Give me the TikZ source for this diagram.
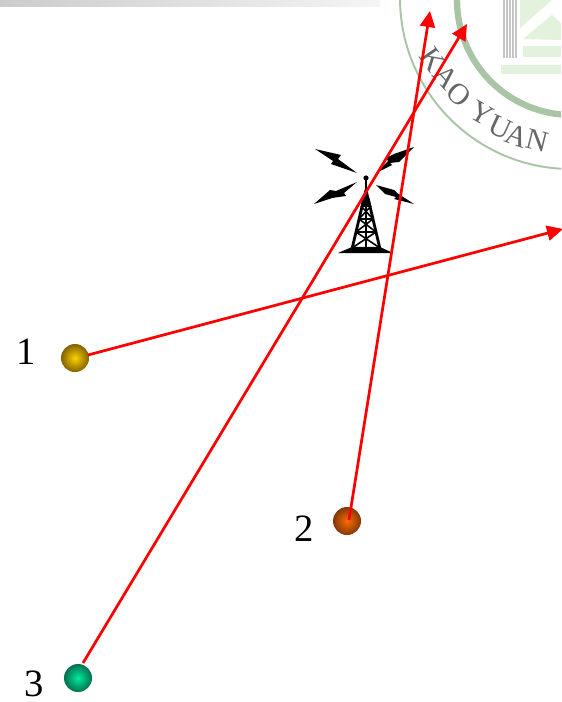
\documentclass[tikz,border=0pt]{standalone}
\usepackage{fontspec}
\setmainfont{Liberation Serif}
\usetikzlibrary{arrows.meta,positioning,calc}
\definecolor{ringgreen}{RGB}{170,196,166}
\definecolor{palegreen}{RGB}{226,242,220}
\definecolor{yelin}{RGB}{255,210,0}
\definecolor{yelout}{RGB}{128,98,0}
\definecolor{orgin}{RGB}{255,108,0}
\definecolor{orgout}{RGB}{128,56,10}
\definecolor{grnin}{RGB}{0,235,155}
\definecolor{grnout}{RGB}{0,112,80}
\tikzset{
  ball/.style={circle,minimum size=28*0.02cm,inner sep=0pt},
  numlbl/.style={font=\fontsize{22}{26}\selectfont,inner sep=0pt},
  logolbl/.style={font=\fontsize{17}{20}\selectfont,text=black!60,inner sep=0pt},
  arr/.style={-{Triangle[length=16*0.02cm,width=15*0.02cm]},red,line width=1.55pt},
  bolt/.style={fill=black,draw=none}
}
\begin{document}
\begin{tikzpicture}[x=0.02cm,y=-0.02cm]
  \useasboundingbox (0,0) rectangle (561,702);
  % Top band
  \shade[left color=gray!40,right color=gray!8] (0,0) rectangle (380,7);

  % Logo
  \begin{scope}
    \clip (0,0) rectangle (561,702);
    \draw[ringgreen,line width=1.1pt] (571,-2) circle (171);
    \draw[ringgreen,line width=3.6pt] (572,0) circle (115);
    \foreach \x in {504,507,510,513,516}
      \draw[gray!45,line width=0.7pt] (\x,0) -- (\x,58);
    \fill[palegreen] (501,65) rectangle (561,74);
    \fill[palegreen] (523,46) rectangle (561,57);
    \fill[palegreen] (523,39) -- (552,15) -- (561,23) -- (561,40) -- cycle;
    \fill[palegreen] (520,0) -- (520,28) -- (552,0) -- cycle;
  \end{scope}
  \node[logolbl,rotate=-55] (lk) at (433,60) {K};
  \node[logolbl,rotate=-48] (la) at (446,77) {A};
  \node[logolbl,rotate=-42] (lo) at (459,94) {O};
  \node[logolbl,rotate=-30] (ly) at (482,113) {Y};
  \node[logolbl,rotate=-25] (lu) at (500,127) {U};
  \node[logolbl,rotate=-20] (lb) at (517,136) {A};
  \node[logolbl,rotate=-14] (ln) at (537,141) {N};

  % Tower
  \fill[black] (338,253) -- (352,247) -- (380,247) -- (393,253) -- cycle;
  \fill[black] (364.5,190) -- (367.5,190) -- (371,206) -- (361,206) -- cycle;
  \draw[black,line width=1.6pt] (364,198) -- (352,249) (368,198) -- (380,249);
  \draw[black,line width=0.9pt] (366,190) -- (366,248)
    (361,206) -- (371,206) (359,219) -- (373,219) (356,232) -- (376,232)
    (361,206) -- (373,219) (371,206) -- (359,219)
    (359,219) -- (376,232) (373,219) -- (356,232)
    (356,232) -- (380,248) (376,232) -- (352,248);
  \fill[black] (366,178) circle (2.6);
  \draw[black,line width=0.8pt] (366,178) -- (366,192);

  % Lightning
  \fill[bolt] (315,149) -- (341,155) -- (338,159) -- (357,173) -- (331,164) -- (333,161) -- cycle;
  \fill[bolt] (414,147) -- (394,154) -- (386,158) -- (388,161) -- (376,173) -- (392,165) -- (390,163) -- (399,162) -- cycle;
  \fill[bolt] (314,204) -- (330,190) -- (336,191) -- (357,182) -- (344,193) -- (346,196) -- (332,198) -- cycle;
  \fill[bolt] (376,185) -- (394,190) -- (397,193) -- (414,204) -- (394,199) -- (396,197) -- (385,194) -- cycle;

  % Stations
  \node[ball,shading=radial,inner color=yelin,outer color=yelout] (s1) at (75,358) {};
  \node[ball,shading=radial,inner color=orgin,outer color=orgout] (s2) at (347,521) {};
  \node[ball,shading=radial,inner color=grnin,outer color=grnout] (s3) at (78,678) {};
  \node[numlbl] (n1) at (26,352) {1};
  \node[numlbl] (n2) at (304,529) {2};
  \node[numlbl] (n3) at (34,684) {3};

  % Arrow ends
  \coordinate (e1) at (563,229);
  \coordinate (e2) at (430,11);
  \coordinate (e3) at (467,24);
  \coordinate (b1) at (88,355);
  \coordinate (b2) at (349,520);
  \coordinate (b3) at (83,663);
  \draw[arr] (b1) -- (e1);
  \draw[arr] (b2) -- (e2);
  \draw[arr] (b3) -- (e3);
\end{tikzpicture}
\end{document}
